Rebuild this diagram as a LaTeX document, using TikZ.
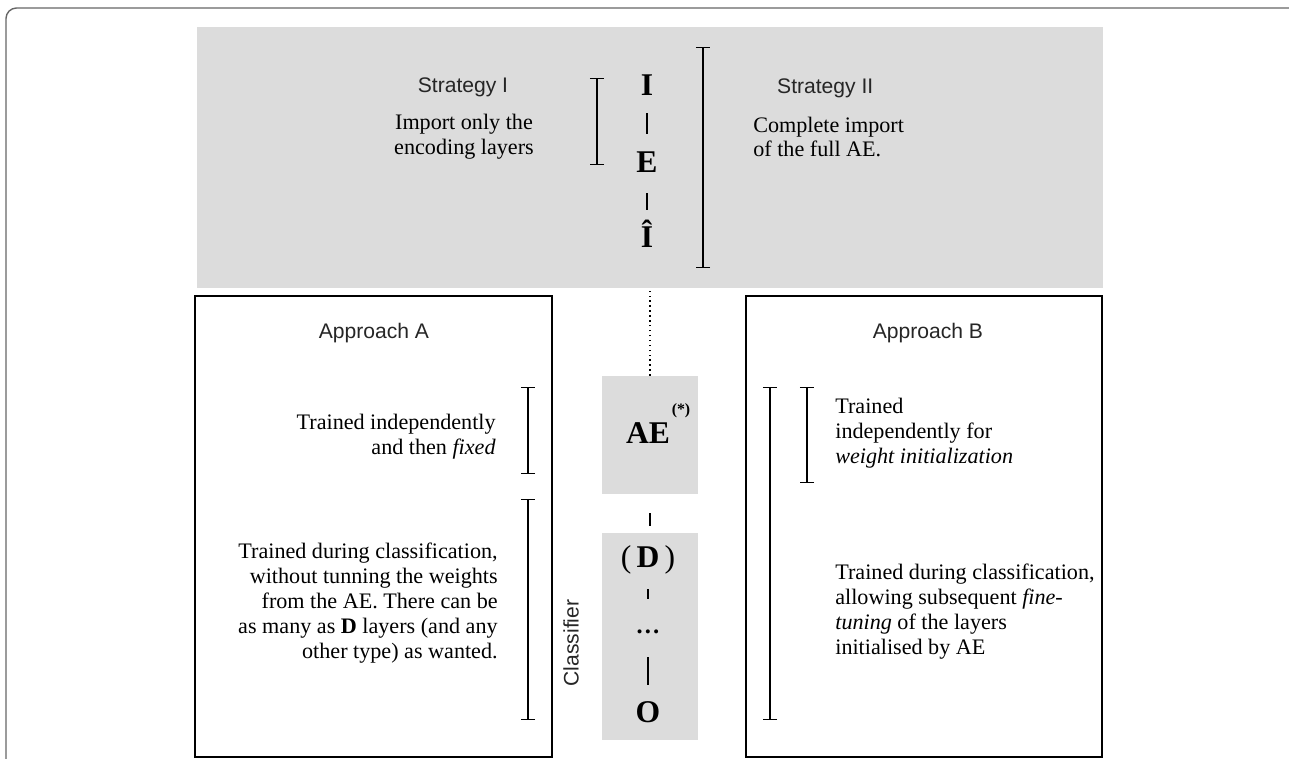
\documentclass[tikz,border=0pt]{standalone}
\usepackage{fontspec}
\setmainfont{Liberation Serif}
\setsansfont{Liberation Sans}
\usetikzlibrary{arrows.meta,calc}
\definecolor{panelgray}{HTML}{DCDCDC}
\tikzset{%
  every panel/.style={
    fill=panelgray,
    draw=none,
    inner sep=0pt
  },
  approach box/.style={
    draw,
    line width=0.9pt,
    inner sep=0pt
  },
  span bar/.style={
    {Bar[width=8pt]}-{Bar[width=8pt]},
    line width=0.6pt
  },
  layer letter/.style={
    font=\fontsize{18}{18}\selectfont\bfseries,
    inner sep=0pt
  },
  heading/.style={
    font=\sffamily\fontsize{12}{14}\selectfont,
    text=black!85
  },
  note/.style={
    font=\fontsize{12.6}{14.2}\selectfont,
    inner sep=0pt
  },
}

\begin{document}
\begin{tikzpicture}[x=0.02cm, y=-0.02cm]
        \useasboundingbox (0,0) rectangle (1289,759);

        % Outer frame
        \draw [black!60, line width=0.8pt, rounded corners=6pt] (6,759) -- (6,8) -- (1289,8);

        %%%%%%%%%%%%%%%%%%%%%%%%%%%%%%%%%%%%%%%%%%%%
        % Panels
        %%%%%%%%%%%%%%%%%%%%%%%%%%%%%%%%%%%%%%%%%%%%
        \node [every panel, minimum width=18.12cm, minimum height=5.22cm] (strat) at (650,157.5) {};
        \node [every panel, minimum width=1.92cm, minimum height=2.36cm] (ae) at (650,435) {};
        \node [every panel, minimum width=1.92cm, minimum height=4.14cm] (clf) at (650,636.5) {};
        \node [approach box, minimum width=7.14cm, minimum height=9.22cm] (appA) at (373.5,526.5) {};
        \node [approach box, minimum width=7.12cm, minimum height=9.22cm] (appB) at (924,526.5) {};

        %%%%%%%%%%%%%%%%%%%%%%%%%%%%%%%%%%%%%%%%%%%%
        % Strategies
        %%%%%%%%%%%%%%%%%%%%%%%%%%%%%%%%%%%%%%%%%%%%
        \node [layer letter, anchor=base] (in) at (647,96) {I};
        \node [layer letter, anchor=base] (enc) at (647,173) {E};
        \node [layer letter, anchor=base] (rec) at (647,248) {\^I};
        \draw [line width=0.6pt, shorten <=0.34cm, shorten >=0.36cm] (in.south) -- (enc.north);
        \draw [line width=0.6pt, shorten <=0.4cm, shorten >=0.2cm] (enc.south) -- (rec.north);

        \draw [span bar] (597,78) -- (597,165);
        \draw [span bar] (703,47) -- (703,268);

        \node [heading] (sI) at (463,87) {Strategy I};
        \node [note, align=center] (sItext) at (464,137) {Import only the\\encoding layers};
        \node [heading, anchor=west] (sII) at (771,88) {Strategy II};
        \node [note, align=left, anchor=west] (sIItext) at (753,137) {Complete import\\of the full AE.};

        %%%%%%%%%%%%%%%%%%%%%%%%%%%%%%%%%%%%%%%%%%%%
        % Network
        %%%%%%%%%%%%%%%%%%%%%%%%%%%%%%%%%%%%%%%%%%%%
        \draw [dotted, line width=0.8pt] (ae.north) -- (ae.north |- strat.south);

        \node [layer letter, anchor=base] (aeL) at (648,444) {AE};
        \node [font=\fontsize{9}{9}\selectfont\bfseries, inner sep=0pt] (star) at (681,411) {(*)};
        \node [layer letter, anchor=base] (dense) at (648,568) {{\mdseries(}\,D\,{\mdseries)}};
        \node [font=\fontsize{14}{14}\selectfont\bfseries, inner sep=0pt] (dots) at (648,632) {\dots};
        \node [layer letter, anchor=base] (out) at (648,723) {O};

        \draw [line width=0.6pt, shorten <=0.38cm, shorten >=0.14cm] (ae.south) -- (clf.north);
        \draw [line width=0.6pt, shorten <=0.28cm, shorten >=0.62cm] (dense.south) -- (dots.north);
        \draw [line width=0.6pt, shorten <=0.46cm, shorten >=0.34cm] (dots.south) -- (out.north);

        \node [heading, rotate=90] (clfL) at (571,643) {Classifier};

        %%%%%%%%%%%%%%%%%%%%%%%%%%%%%%%%%%%%%%%%%%%%
        % Approach A
        %%%%%%%%%%%%%%%%%%%%%%%%%%%%%%%%%%%%%%%%%%%%
        \node [heading] (aA) at (374,333) {Approach A};
        \draw [span bar] (528,387) -- (528,474);
        \draw [span bar] (528,499) -- (528,720);
        \node [note, align=right, anchor=east] (aA1) at (496,437) {Trained independently\\and then \textit{fixed}};
        \node [note, align=right, anchor=east] (aA2) at (498,603) {Trained during classification,\\without tunning the weights\\from the AE. There can be\\as many as \textbf{D} layers (and any\\other type) as wanted.};

        %%%%%%%%%%%%%%%%%%%%%%%%%%%%%%%%%%%%%%%%%%%%
        % Approach B
        %%%%%%%%%%%%%%%%%%%%%%%%%%%%%%%%%%%%%%%%%%%%
        \node [heading] (aB) at (928,333) {Approach B};
        \draw [span bar] (770,387) -- (770,720);
        \draw [span bar] (807,387) -- (807,483);
        \node [note, align=left, anchor=west] (aB1) at (835,433) {Trained\\independently for\\\textit{weight initialization}};
        \node [note, align=left, anchor=west] (aB2) at (835,612) {Trained during classification,\\allowing subsequent \textit{fine-}\\\textit{tuning} of the layers\\initialised by AE};
    \end{tikzpicture}
\end{document}
